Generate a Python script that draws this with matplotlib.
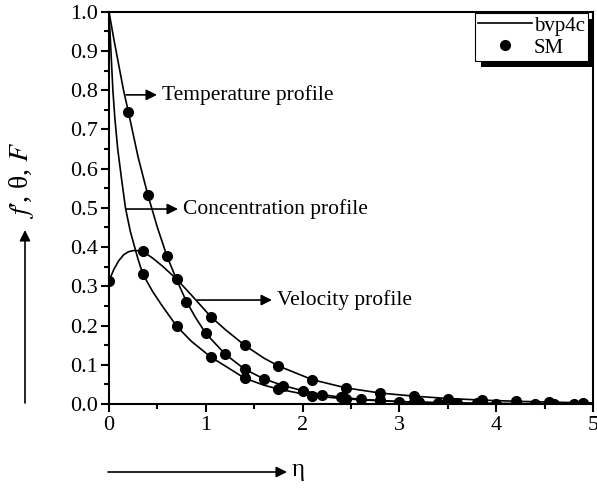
import matplotlib
matplotlib.use("Agg")
import matplotlib.pyplot as plt
from matplotlib.patches import Rectangle
from matplotlib.transforms import IdentityTransform
from matplotlib.ticker import MultipleLocator, FormatStrFormatter
from matplotlib.lines import Line2D

plt.rcParams['font.family'] = ['Liberation Serif', 'DejaVu Serif']
plt.rcParams['mathtext.fontset'] = 'stix'

# ---- data ----
temp_x = [0, 0.05, 0.1, 0.15, 0.2, 0.3, 0.4, 0.5, 0.6, 0.7, 0.8, 0.9, 1.0, 1.2, 1.4, 1.6, 1.8,
          2.0, 2.2, 2.4, 2.6, 2.8, 3.0, 3.2, 3.4, 3.6, 3.8, 4.0, 4.2, 4.4, 4.6, 4.8, 5.0]
temp_y = [1.0, 0.93, 0.865, 0.80, 0.745, 0.63, 0.534, 0.45, 0.376, 0.316, 0.261, 0.218, 0.18,
          0.127, 0.089, 0.064, 0.047, 0.034, 0.024, 0.017, 0.012, 0.009, 0.006, 0.0045, 0.003,
          0.002, 0.0015, 0.001, 0.0008, 0.0005, 0.0003, 0.0002, 0.0]

vel_x = [0, 0.05, 0.1, 0.15, 0.2, 0.25, 0.3, 0.35, 0.45, 0.55, 0.7, 0.85, 1.05, 1.2, 1.4, 1.6,
         1.75, 2.0, 2.1, 2.45, 2.8, 3.15, 3.5, 3.85, 4.2, 4.55, 4.9, 5.0]
vel_y = [0.314, 0.343, 0.365, 0.38, 0.388, 0.391, 0.391, 0.389, 0.372, 0.352, 0.318, 0.278,
         0.223, 0.19, 0.15, 0.117, 0.097, 0.072, 0.062, 0.041, 0.028, 0.02, 0.014, 0.01, 0.007,
         0.005, 0.003, 0.003]

conc_x = [0, 0.01, 0.02, 0.04, 0.06, 0.09, 0.13, 0.17, 0.22, 0.3, 0.35, 0.45, 0.55, 0.7, 0.85,
          1.05, 1.2, 1.4, 1.6, 1.75, 2.1, 2.45, 2.8, 3.15, 3.5, 3.85, 4.2, 4.55, 4.9, 5.0]
conc_y = [1.0, 0.95, 0.9, 0.8, 0.73, 0.65, 0.573, 0.5, 0.44, 0.369, 0.331, 0.287, 0.25, 0.198,
          0.16, 0.12, 0.097, 0.066, 0.048, 0.038, 0.021, 0.013, 0.008, 0.005, 0.003, 0.002,
          0.001, 0.0008, 0.0005, 0.0004]

sm_temp_x = [0.2, 0.4, 0.6, 0.8, 1.0, 1.2, 1.4, 1.6, 1.8, 2.0, 2.2, 2.4, 2.6, 2.8, 3.0, 3.2,
             3.4, 3.6, 3.8, 4.0, 4.2, 4.4, 4.6, 4.8]
sm_temp_y = [0.745, 0.534, 0.376, 0.261, 0.18, 0.127, 0.089, 0.064, 0.047, 0.034, 0.024, 0.017,
             0.012, 0.009, 0.006, 0.0045, 0.003, 0.002, 0.0015, 0.001, 0.0008, 0.0005, 0.0003, 0.0002]

sm_vel_x = [0, 0.35, 0.7, 1.05, 1.4, 1.75, 2.1, 2.45, 2.8, 3.15, 3.5, 3.85, 4.2, 4.55, 4.9]
sm_vel_y = [0.314, 0.389, 0.318, 0.223, 0.15, 0.097, 0.062, 0.041, 0.028, 0.02, 0.014, 0.01,
            0.007, 0.005, 0.003]

sm_conc_x = [0.35, 0.7, 1.05, 1.4, 1.75, 2.1, 2.45, 2.8, 3.15, 3.5, 3.85, 4.2, 4.55, 4.9]
sm_conc_y = [0.331, 0.198, 0.12, 0.066, 0.038, 0.021, 0.013, 0.008, 0.005, 0.003, 0.002, 0.001,
             0.0008, 0.0005]

legend_labels = ["bvp4c", "SM"]
x_ticks = [0, 1, 2, 3, 4, 5]

# ---- figure ----
W, H = 597, 488
fig = plt.figure(figsize=(W / 100, H / 100), dpi=100)
ax = fig.add_axes([109 / W, 84 / H, 484 / W, 392.3 / H])

lw = 1.2
for xs, ys in [(temp_x, temp_y), (vel_x, vel_y), (conc_x, conc_y)]:
    ax.plot(xs, ys, color='black', lw=lw, solid_capstyle='round', zorder=2)
for xs, ys in [(sm_temp_x, sm_temp_y), (sm_vel_x, sm_vel_y), (sm_conc_x, sm_conc_y)]:
    ax.plot(xs, ys, ls='none', marker='o', ms=7, color='black', zorder=3, clip_on=True)

ax.set_xlim(0, 5)
ax.set_ylim(0, 1.0)
ax.set_xticks(x_ticks)
ax.xaxis.set_minor_locator(MultipleLocator(0.5))
ax.yaxis.set_major_locator(MultipleLocator(0.1))
ax.yaxis.set_minor_locator(MultipleLocator(0.05))
ax.yaxis.set_major_formatter(FormatStrFormatter('%.1f'))
ax.tick_params(which='both', direction='out', top=False, right=False, width=1.5, labelsize=16)
ax.tick_params(which='major', length=6)
ax.tick_params(which='minor', length=3.5)
ax.tick_params(axis='y', pad=2)
ax.tick_params(axis='x', pad=3)
for s in ax.spines.values():
    s.set_linewidth(1.5)

# annotations
arrow_kw = dict(arrowstyle='-|>', color='black', lw=1.2, mutation_scale=16, shrinkA=0, shrinkB=0)
ann = [("Temperature profile", 0.176, 0.496, 0.788),
       ("Concentration profile", 0.176, 0.713, 0.497),
       ("Velocity profile", 0.909, 1.684, 0.265)]
for txt, x0, x1, yv in ann:
    ax.annotate('', xy=(x1, yv), xytext=(x0, yv), arrowprops=arrow_kw)
    ax.text(x1 + 0.05, yv, txt, fontsize=15.5, va='center', ha='left')

# legend
handles = [Line2D([], [], color='black', lw=1.2),
           Line2D([], [], ls='none', marker='o', ms=7, color='black')]
leg = ax.legend(handles, legend_labels, loc='upper right', bbox_to_anchor=(0.99, 0.997),
                fontsize=15, frameon=True, fancybox=False, shadow=False, framealpha=1.0,
                borderpad=0.15, labelspacing=0.12, handlelength=2.6, handletextpad=0.1,
                borderaxespad=0.0)
leg.get_frame().set_edgecolor('black')
leg.get_frame().set_facecolor('white')
leg.get_frame().set_linewidth(0.8)
leg.set_zorder(6)

fig.canvas.draw()
bb = leg.get_window_extent()
shadow = Rectangle((bb.x0 + 6, bb.y0 - 6), bb.width, bb.height, transform=IdentityTransform(),
                   facecolor='black', edgecolor='none', zorder=5.5, clip_on=False)
ax.add_patch(shadow)

# axis labels with arrows
fig_arrow = dict(arrowstyle='-|>', color='black', lw=1.2, mutation_scale=16, shrinkA=0, shrinkB=0)
ax.annotate('', xy=(25, H - 230), xytext=(25, H - 403), xycoords='figure pixels',
            textcoords='figure pixels', arrowprops=fig_arrow, annotation_clip=False)
fig.text(21 / W, 1 - 180 / H, "$f$', θ, $F$", rotation=90, fontsize=20,
         ha='center', va='center')
ax.annotate('', xy=(287, H - 472), xytext=(108, H - 472), xycoords='figure pixels',
            textcoords='figure pixels', arrowprops=fig_arrow, annotation_clip=False)
fig.text(292 / W, 1 - 470 / H, "η", fontsize=18, ha='left', va='center')

fig.savefig("out.png", dpi=100)
